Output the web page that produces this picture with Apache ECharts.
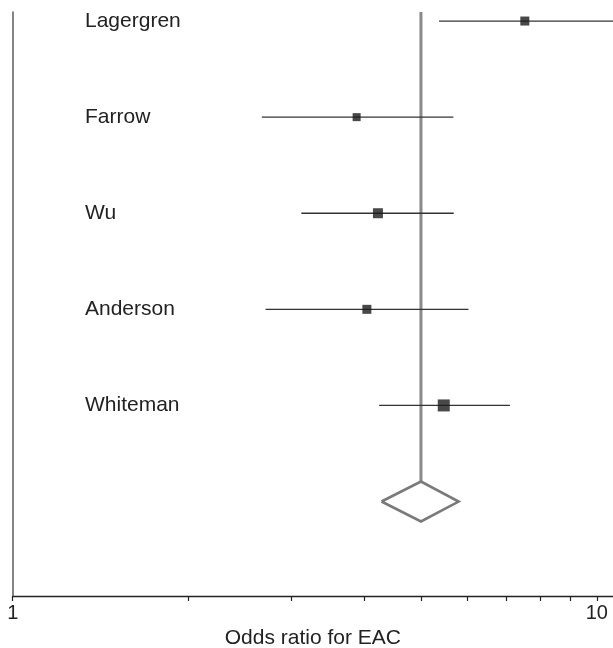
<!DOCTYPE html>
<html>
<head>
<meta charset="utf-8">
<script src="https://cdn.jsdelivr.net/npm/echarts@6/dist/echarts.min.js"></script>
<style>
html,body{margin:0;padding:0;background:#fff;}
#chart{width:613px;height:648px;}
</style>
</head>
<body>
<div id="chart"></div>
<script>
// ---- data ----
const studies = ['Lagergren', 'Farrow', 'Wu', 'Anderson', 'Whiteman'];
const oddsRatio = [7.53, 3.88, 4.22, 4.04, 5.47];
const ciLower = [5.37, 2.67, 3.12, 2.71, 4.24];
const ciUpper = [14.0, 5.68, 5.69, 6.03, 7.10];
const weightSize = [9, 8, 10, 9, 12];
const pooledOR = 5.0;
const pooledLower = 4.28;
const pooledUpper = 5.80;
const xTickValues = [1, 2, 3, 4, 5, 6, 7, 8, 9, 10];
const xLabelValues = [1, 10];
const xMaxValue = 10.66;
const axisTitle = 'Odds ratio for EAC';

// ---- build ----
const L = v => Math.log10(v);
const pooledRow = studies.length;
const diamondHalf = 0.208;
const yMin = -0.094, yMax = 5.983;

const ciData = studies.map((s, i) => [L(ciLower[i]), L(ciUpper[i]), i]);
const pointData = studies.map((s, i) => ({ value: [L(oddsRatio[i]), i], symbolSize: weightSize[i] }));
const diamondData = [
  [L(pooledLower), pooledRow],
  [L(pooledOR), pooledRow - diamondHalf],
  [L(pooledUpper), pooledRow],
  [L(pooledOR), pooledRow + diamondHalf],
  [L(pooledLower), pooledRow]
];
const refLine = [[L(pooledOR), yMin], [L(pooledOR), pooledRow - diamondHalf]];

const font = '"Liberation Sans", Arial, Helvetica, sans-serif';
const chart = echarts.init(document.getElementById('chart'), null, { renderer: 'canvas' });
chart.setOption({
  animation: false,
  backgroundColor: '#ffffff',
  grid: { left: 12.7, right: 0, top: 12, bottom: 52, containLabel: false, outerBoundsMode: 'none' },
  xAxis: {
    type: 'value',
    min: 0,
    max: L(xMaxValue),
    splitLine: { show: false },
    axisLine: { show: true, onZero: false, lineStyle: { color: '#222', width: 1.3 } },
    axisTick: { show: true, length: 5, lineStyle: { color: '#222', width: 1.2 },
      customValues: xTickValues.map(L) },
    axisLabel: { show: true, customValues: xLabelValues.map(L), margin: 7,
      formatter: v => String(Math.round(Math.pow(10, v))),
      color: '#222', fontSize: 20, fontFamily: font },
    name: axisTitle,
    nameLocation: 'middle',
    nameGap: 25,
    nameTextStyle: { color: '#222', fontSize: 21, fontFamily: font }
  },
  yAxis: {
    type: 'value',
    min: yMin,
    max: yMax,
    inverse: true,
    splitLine: { show: false },
    axisLine: { show: true, onZero: false, lineStyle: { color: '#666', width: 1.6 } },
    axisTick: { show: false },
    axisLabel: {
      show: true, inside: true, margin: 72.3,
      customValues: studies.map((s, i) => i),
      formatter: v => studies[Math.round(v)] || '',
      color: '#222', fontSize: 21, fontFamily: font, align: 'left', verticalAlign: 'middle'
    }
  },
  series: [
    {
      type: 'line', data: refLine, symbol: 'none', silent: true,
      lineStyle: { color: '#8a8a8a', width: 3 }, z: 1
    },
    {
      type: 'custom', clip: true, z: 2,
      data: ciData,
      renderItem: (params, api) => {
        const p1 = api.coord([api.value(0), api.value(2)]);
        const p2 = api.coord([api.value(1), api.value(2)]);
        return { type: 'line', shape: { x1: p1[0], y1: p1[1], x2: p2[0], y2: p2[1] },
          style: { stroke: '#333', lineWidth: 1.3 } };
      }
    },
    {
      type: 'scatter', symbol: 'rect', data: pointData, z: 3,
      itemStyle: { color: '#1a1a1a' }
    },
    {
      type: 'line', data: diamondData, symbol: 'none', silent: true, z: 3,
      lineStyle: { color: '#7a7a7a', width: 2.6, join: 'miter' }
    }
  ]
});
</script>
</body>
</html>
